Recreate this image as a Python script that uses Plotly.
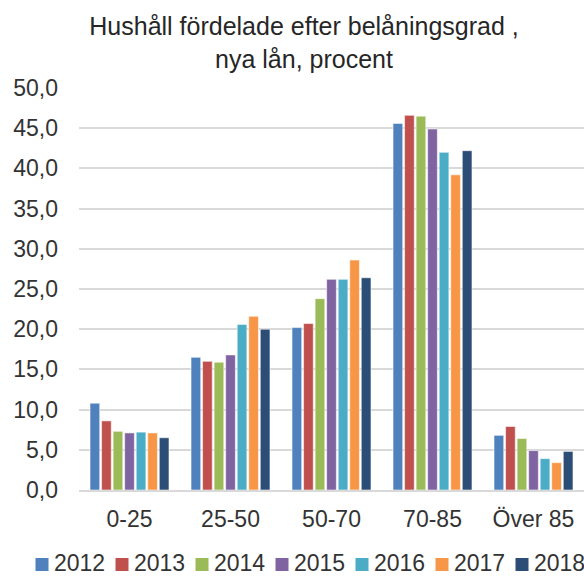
import plotly.graph_objects as go

categories = ["0-25", "25-50", "50-70", "70-85", "Över 85"]
years = ["2012", "2013", "2014", "2015", "2016", "2017", "2018"]
v2012 = [10.8, 16.5, 20.2, 45.6, 6.8]
v2013 = [8.6, 16.0, 20.7, 46.6, 7.9]
v2014 = [7.3, 15.9, 23.8, 46.5, 6.4]
v2015 = [7.1, 16.8, 26.2, 44.9, 4.9]
v2016 = [7.2, 20.6, 26.2, 42.0, 3.9]
v2017 = [7.1, 21.6, 28.6, 39.2, 3.4]
v2018 = [6.5, 20.0, 26.4, 42.2, 4.8]
series = [v2012, v2013, v2014, v2015, v2016, v2017, v2018]
colors = ["#4F81BD", "#C0504D", "#9BBB59", "#8064A2", "#4BACC6", "#F79646", "#2C4D75"]

W, H = 584, 578
L, R, T, B = 79, 0, 88, 88
PW, PH = W - L - R, H - T - B

def px_x(x):
    return (x - L) / PW

def px_y(y):
    return (H - B - y) / PH

font = "Liberation Sans, Arial, sans-serif"
fig = go.Figure()
for y, vals, c in zip(years, series, colors):
    fig.add_trace(go.Bar(x=categories, y=vals, name=y, showlegend=False,
                         marker=dict(color=c, line=dict(color="rgba(255,255,255,0.55)", width=1))))

# custom legend (squares + real text labels) laid out horizontally below the plot
shapes = []
annotations = []
x0, step, sq = 35.5, 80, 13
for i, (y, c) in enumerate(zip(years, colors)):
    xs = x0 + i * step
    shapes.append(dict(type="rect", xref="paper", yref="paper",
                       x0=px_x(xs), x1=px_x(xs + sq), y0=px_y(571), y1=px_y(558),
                       fillcolor=c, line=dict(width=0)))
    annotations.append(dict(xref="paper", yref="paper", x=px_x(xs + sq + 3.5), y=px_y(563),
                            xanchor="left", yanchor="middle", text=y, showarrow=False,
                            font=dict(size=23, color="#333333", family=font)))

fig.update_layout(
    width=W, height=H,
    margin=dict(l=L, r=R, t=T, b=B),
    paper_bgcolor="white", plot_bgcolor="white",
    barmode="group", bargap=0.2, bargroupgap=0.16,
    separators=", ",
    font=dict(family=font, color="#333333", size=23),
    title=dict(text="Hushåll fördelade efter belåningsgrad ,<br>nya lån, procent",
               x=304 / W, xanchor="center", xref="container", y=1 - 35 / H, yanchor="top",
               font=dict(size=25, color="#262626", family=font)),
    showlegend=False,
    shapes=shapes,
    annotations=annotations,
)
fig.update_xaxes(range=[-0.5, 4.5], showgrid=False, showline=True, linecolor="#d9d9d9", linewidth=1.5,
                 ticks="", tickangle=0, tickfont=dict(size=23, color="#333333"), ticklabelstandoff=8)
fig.update_yaxes(range=[0, 50], dtick=5, tickformat=".1f", showgrid=True, gridcolor="#d9d9d9", gridwidth=1.5,
                 zeroline=False, showline=False, ticks="", tickfont=dict(size=23, color="#333333"),
                 ticklabelstandoff=20)
fig.write_html("out.html", config={"displayModeBar": False},
               post_script="document.body.style.margin='0px';document.body.style.overflow='hidden';")
